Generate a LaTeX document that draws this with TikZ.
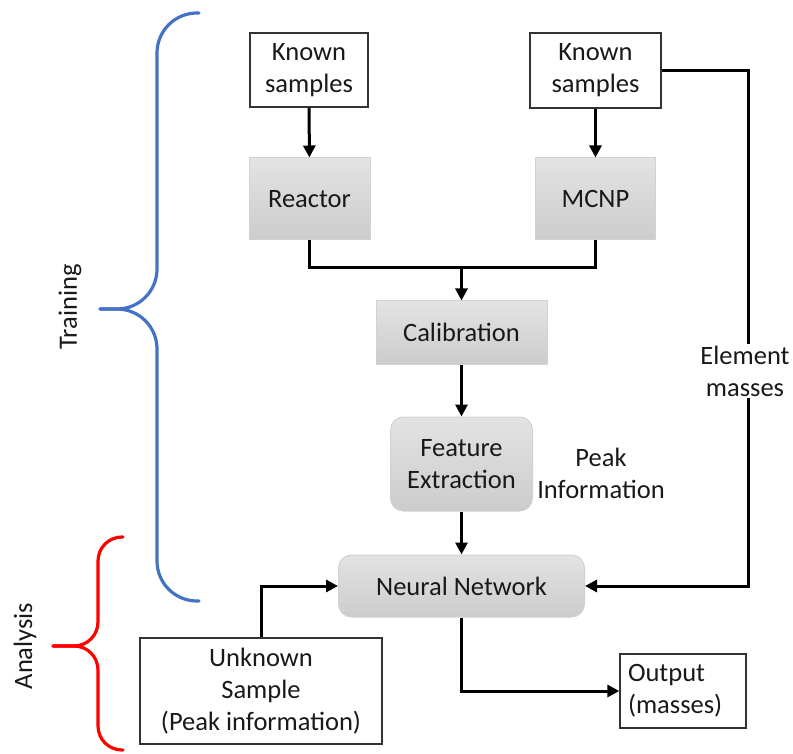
\documentclass[tikz,border=0pt]{standalone}
\usepackage{fontspec}
\setmainfont{Carlito}
\usetikzlibrary{arrows.meta}
\definecolor{bblue}{HTML}{4472C4}
\definecolor{rred}{HTML}{FF0000}
\tikzset{
  every node/.style={font=\fontsize{26.5}{32}\selectfont, text=black!90},
  wbox/.style={draw=black!80, line width=1.3pt, fill=white, align=center, inner sep=0pt},
  gbox/.style={draw=gray!35, line width=1pt, top color=gray!22, bottom color=gray!40, align=center, inner sep=0pt},
  rbox/.style={gbox, rounded corners=13pt},
  arr/.style={line width=3pt, -{Triangle[length=12pt,width=12pt]}},
  ln/.style={line width=3pt},
  brace/.style={line width=3.2pt, line cap=round},
}
\begin{document}
\begin{tikzpicture}[x=1pt,y=-1pt]
\useasboundingbox (0,0) rectangle (793,754);
% nodes
\node[wbox, minimum width=118pt, minimum height=74pt] (ks1) at (309,70) {Known\\samples};
\node[wbox, minimum width=131pt, minimum height=75pt] (ks2) at (595.5,70.5) {Known\\samples};
\node[gbox, minimum width=121pt, minimum height=82pt] (reactor) at (309.5,199) {Reactor};
\node[gbox, minimum width=120pt, minimum height=82pt] (mcnp) at (595.5,199) {MCNP};
\node[gbox, minimum width=171pt, minimum height=63pt] (calib) at (461.5,332.5) {Calibration};
\node[rbox, minimum width=142pt, minimum height=94pt] (feat) at (461.5,464) {Feature\\Extraction};
\node[rbox, minimum width=246pt, minimum height=62pt] (nn) at (461.5,586) {Neural Network};
\node[wbox, minimum width=242pt, minimum height=106pt] (unk) at (261,691) {Unknown\\Sample\\(Peak information)};
\node[wbox, minimum width=126pt, minimum height=74pt, align=left, text width=110pt] (out) at (683,691) {Output\\(masses)};
\node[inner sep=0pt, align=center] (peak) at (601,473) {Peak\\Information};
% connectors
\coordinate (j) at (461.5,268);
\draw[arr] (ks1) -- (reactor);
\draw[arr] (ks2) -- (mcnp);
\draw[ln] (reactor.south) |- (j) -| (mcnp.south);
\draw[arr] (j) -- (calib.north);
\draw[arr] (calib) -- (feat);
\draw[arr] (feat) -- (nn);
\coordinate (e2) at (748,586);
\draw[arr] (ks2.east) -| (e2) -- (nn.east);
\node[fill=white, inner sep=2pt, align=center] (elem) at (745,371) {Element\\masses};
\draw[arr] (unk.north) |- (nn.west);
\draw[arr] (nn.south) |- (out.west);
% braces
\draw[brace, bblue, rounded corners=40pt] (199,13) -- (157,13) -- (157,309) -- (100,309);
\draw[brace, bblue, rounded corners=40pt] (199,601) -- (157,601) -- (157,309) -- (100,309);
\draw[brace, rred, rounded corners=24pt] (123,537) -- (98,537) -- (98,646) -- (53,646);
\draw[brace, rred, rounded corners=24pt] (123,750) -- (98,750) -- (98,646) -- (53,646);
\node[rotate=90] (train) at (70,307) {Training};
\node[rotate=90] (anal) at (25,646) {Analysis};
\end{tikzpicture}
\end{document}
